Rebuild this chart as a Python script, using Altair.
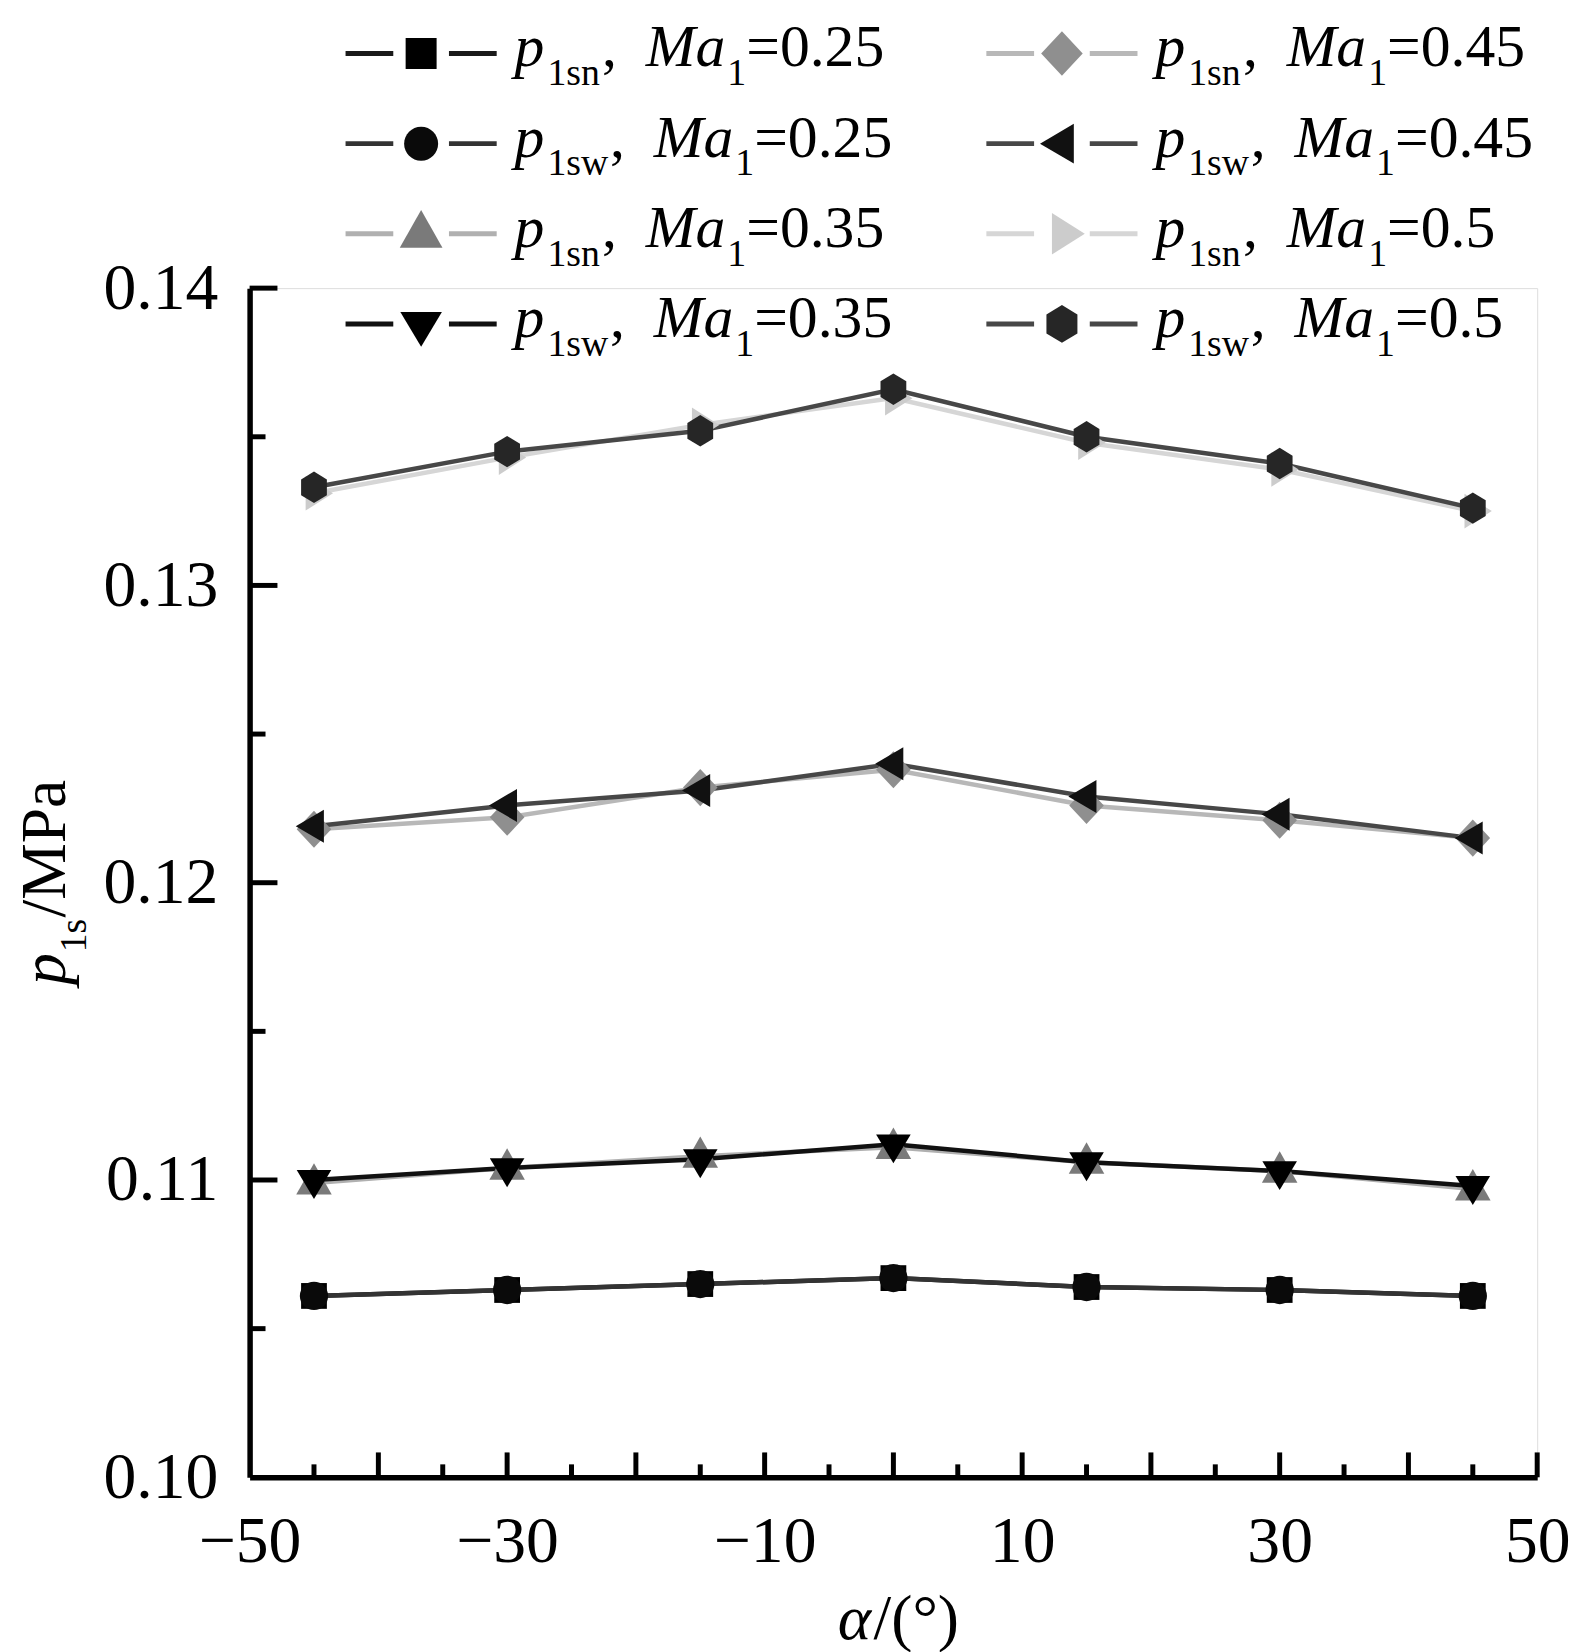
import altair as alt
import pandas as pd

# ---------------- data ----------------
alpha_deg = [-45, -30, -15, 0, 15, 30, 45]

p1sn_025 = [0.1061, 0.1063, 0.1065, 0.1067, 0.1064, 0.1063, 0.1061]
p1sw_025 = [0.1061, 0.1063, 0.1065, 0.1067, 0.1064, 0.1063, 0.1061]
p1sn_035 = [0.1099, 0.1104, 0.1108, 0.1111, 0.1106, 0.1103, 0.1097]
p1sw_035 = [0.1100, 0.1104, 0.1107, 0.1112, 0.1106, 0.1103, 0.1098]
p1sn_045 = [0.1218, 0.1222, 0.1232, 0.1238, 0.1226, 0.1221, 0.1215]
p1sw_045 = [0.1219, 0.1226, 0.1231, 0.1240, 0.1229, 0.1223, 0.1215]
p1sn_050 = [0.1331, 0.1343, 0.1354, 0.1363, 0.1348, 0.1339, 0.1325]
p1sw_050 = [0.1333, 0.1345, 0.1352, 0.1366, 0.1350, 0.1341, 0.1326]

series_ids = ["sn025", "sw025", "sn035", "sw035", "sn045", "sw045", "sn050", "sw050"]
series_kind = ["sn", "sw", "sn", "sw", "sn", "sw", "sn", "sw"]
series_mach = ["0.25", "0.25", "0.35", "0.35", "0.45", "0.45", "0.5", "0.5"]
series_values = [p1sn_025, p1sw_025, p1sn_035, p1sw_035,
                 p1sn_045, p1sw_045, p1sn_050, p1sw_050]

x_label_values = [-50, -30, -10, 10, 30, 50]
x_major_ticks = [-40, -30, -20, -10, 0, 10, 20, 30, 40, 50]
x_minor_ticks = [-45, -35, -25, -15, -5, 5, 15, 25, 35, 45]
y_label_values = [0.10, 0.11, 0.12, 0.13, 0.14]
y_major_ticks = [0.11, 0.12, 0.13, 0.14]
y_minor_ticks = [0.105, 0.115, 0.125, 0.135]

# ---------------- styles ----------------
line_colors = ["#1a1a1a", "#333333", "#b0b0b0", "#111111",
               "#b8b8b8", "#474747", "#d6d6d6", "#474747"]
fill_colors = ["#000000", "#0a0a0a", "#7a7a7a", "#000000",
               "#8f8f8f", "#111111", "#cccccc", "#262626"]
shape_paths = [
    "M-0.82,-0.82L0.82,-0.82L0.82,0.82L-0.82,0.82Z",                 # square
    "M-0.9,0A0.9,0.9,0,1,0,0.9,0A0.9,0.9,0,1,0,-0.9,0Z",             # circle
    "M0,-1.26L1.13,0.74L-1.13,0.74Z",                                # triangle up
    "M-1.1,-0.63L1.1,-0.63L0,1.21Z",                                 # triangle down
    "M0,-1.18L1.1,0L0,1.18L-1.1,0Z",                                 # diamond
    "M-1.16,0L0.63,-1.05L0.63,1.05Z",                                # triangle left
    "M1.21,0L-0.53,-1.1L-0.53,1.1Z",                                 # triangle right
    "M0,-1L0.82,-0.5L0.82,0.5L0,1L-0.82,0.5L-0.82,-0.5Z",            # hexagon
]

FONT = "Liberation Serif"
W, H = 1295, 1196

rows = []
for sid, vals in zip(series_ids, series_values):
    for a, v in zip(alpha_deg, vals):
        rows.append({"series": sid, "alpha": a, "p": v})
df = pd.DataFrame(rows)

xscale = alt.Scale(domain=[-50, 50], nice=False)
yscale = alt.Scale(domain=[0.10, 0.14], nice=False, zero=False)
xaxis = alt.Axis(values=x_label_values, format="d", title=None, ticks=False,
                 grid=False, labelFont=FONT, labelFontSize=66, labelColor="black",
                 labelPadding=33, labelFlush=False, domainColor="black",
                 domainWidth=5.5, labelOverlap=False)
yaxis = alt.Axis(values=y_label_values, format=".2f", title=None, ticks=False,
                 grid=False, labelFont=FONT, labelFontSize=66, labelColor="black",
                 labelPadding=32, domainColor="black", domainWidth=5.5,
                 labelOverlap=False)

stroke_scale = alt.Scale(domain=series_ids, range=line_colors)
fill_scale = alt.Scale(domain=series_ids, range=fill_colors)
shape_scale = alt.Scale(domain=series_ids, range=shape_paths)

X = alt.X("alpha:Q", scale=xscale, axis=xaxis)
Y = alt.Y("p:Q", scale=yscale, axis=yaxis)

lines = alt.Chart(df).mark_line(strokeWidth=4.5).encode(
    x=X, y=Y,
    stroke=alt.Stroke("series:N", scale=stroke_scale, legend=None),
)
points = alt.Chart(df).mark_point(filled=True, opacity=1, size=1000).encode(
    x=X, y=Y,
    fill=alt.Fill("series:N", scale=fill_scale, legend=None),
    shape=alt.Shape("series:N", scale=shape_scale, legend=None),
)

# axis ticks pointing inward
xt_major = alt.Chart(pd.DataFrame({"alpha": x_major_ticks})).mark_rule(
    color="black", strokeWidth=5, y2Offset=-25).encode(
    x=X, y=alt.datum(0.10), y2=alt.datum(0.10))
xt_minor = alt.Chart(pd.DataFrame({"alpha": x_minor_ticks})).mark_rule(
    color="black", strokeWidth=5, y2Offset=-13).encode(
    x=X, y=alt.datum(0.10), y2=alt.datum(0.10))
yt_major = alt.Chart(pd.DataFrame({"p": y_major_ticks})).mark_rule(
    color="black", strokeWidth=5, x2Offset=28).encode(
    y=Y, x=alt.datum(-50), x2=alt.datum(-50))
yt_minor = alt.Chart(pd.DataFrame({"p": y_minor_ticks})).mark_rule(
    color="black", strokeWidth=5, x2Offset=16).encode(
    y=Y, x=alt.datum(-50), x2=alt.datum(-50))

# axis titles with italic / subscript parts
base_txt = alt.Chart(pd.DataFrame({"k": [0]}))
def ytitle(txt, size, style, xo, yo):
    return base_txt.mark_text(text=txt, font=FONT, fontSize=size, fontStyle=style,
                              angle=270, align="left", baseline="alphabetic",
                              color="black", xOffset=xo, yOffset=yo).encode(
        x=alt.datum(-50), y=alt.datum(0.12))
def xtitle(txt, size, style, xo, yo):
    return base_txt.mark_text(text=txt, font=FONT, fontSize=size, fontStyle=style,
                              align="left", baseline="alphabetic",
                              color="black", xOffset=xo, yOffset=yo).encode(
        x=alt.datum(0), y=alt.datum(0.10))

YT = -186
titles = [
    ytitle("p", 64, "italic", YT, 103),
    ytitle("1s", 38, "normal", YT + 21, 70),
    ytitle("/MPa", 64, "normal", YT, 35),
    xtitle("α", 64, "italic", -56, 163),
    xtitle("/(°)", 64, "normal", -20, 163),
]

main = alt.layer(lines, points, xt_major, xt_minor, yt_major, yt_minor, *titles)

# ---------------- custom legend ----------------
leg = pd.DataFrame({
    "series": series_ids,
    "kind": series_kind,
    "sub": ["1" + k for k in series_kind],
    "val": ["=" + m for m in series_mach],
    "col": [0, 0, 0, 0, 1, 1, 1, 1],
    "row": [0, 1, 2, 3, 0, 1, 2, 3],
})
lx = alt.Scale(domain=[0, 1], range=[172.5, 817])
ly = alt.Scale(domain=[0, 3], range=[-236, 36])
LX = alt.X("col:Q", scale=lx, axis=None)
LY = alt.Y("row:Q", scale=ly, axis=None)
lbase = alt.Chart(leg)

leg_l = lbase.mark_rule(strokeWidth=5, xOffset=-76, x2Offset=-28).encode(
    x=LX, x2="col:Q", y=LY,
    stroke=alt.Stroke("series:N", scale=stroke_scale, legend=None))
leg_r = lbase.mark_rule(strokeWidth=5, xOffset=28, x2Offset=76).encode(
    x=LX, x2="col:Q", y=LY,
    stroke=alt.Stroke("series:N", scale=stroke_scale, legend=None))
leg_pt = lbase.mark_point(filled=True, opacity=1, size=1444).encode(
    x=LX, y=LY,
    fill=alt.Fill("series:N", scale=fill_scale, legend=None),
    shape=alt.Shape("series:N", scale=shape_scale, legend=None))

def ltext(dx, dy, size, style, text=None, field=None, kind=None):
    ch = lbase
    if kind is not None:
        ch = ch.transform_filter(alt.datum.kind == kind)
    kw = dict(font=FONT, fontSize=size, fontStyle=style, align="left",
              baseline="alphabetic", color="black", dx=dx, dy=dy)
    if text is not None:
        return ch.mark_text(text=text, **kw).encode(x=LX, y=LY)
    return ch.mark_text(**kw).encode(x=LX, y=LY, text=f"{field}:N")

TX = 94
leg_txt = [
    ltext(TX, 13, 60, "italic", text="p"),
    ltext(TX + 33, 32, 38, "normal", field="sub"),
]
for kind, extra in (("sn", 0), ("sw", 8)):
    ma = TX + 132 + extra
    leg_txt += [
        ltext(ma - 44, 13, 60, "normal", text=",", kind=kind),
        ltext(ma, 13, 60, "italic", text="Ma", kind=kind),
        ltext(ma + 82, 32, 38, "normal", text="1", kind=kind),
        ltext(ma + 101, 13, 60, "normal", field="val", kind=kind),
    ]

legend = alt.layer(leg_l, leg_r, leg_pt, *leg_txt)

chart = alt.layer(main, legend).resolve_scale(
    x="independent", y="independent"
).properties(
    width=W, height=H,
    padding={"left": 6, "top": 6, "right": 0, "bottom": 0},
).configure_view(stroke="transparent", strokeWidth=0).configure(background="white")

chart.save("out.html", embed_options={"renderer": "svg", "actions": False})
